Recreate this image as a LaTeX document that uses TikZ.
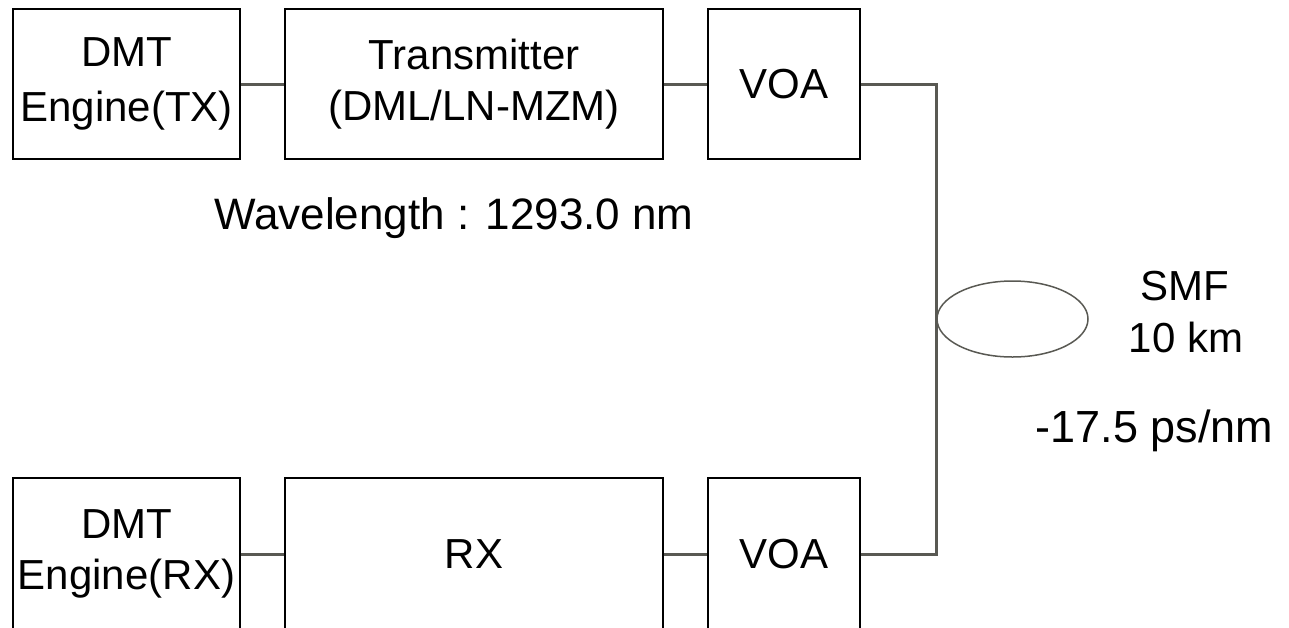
\documentclass[tikz,border=0pt]{standalone}
\usepackage{fontspec}
\setmainfont{Liberation Sans}
\usetikzlibrary{shapes.geometric}
\definecolor{wire}{RGB}{89,89,83}
\tikzset{
  blk/.style={draw=black, line width=2pt, fill=white, inner sep=0pt, align=center,
    font=\fontsize{42}{51}\selectfont},
  wireline/.style={draw=wire, line width=3pt},
  lbl/.style={inner sep=0pt, anchor=base},
}
\begin{document}
\begin{tikzpicture}[x=1pt,y=-1pt]
\useasboundingbox (0,0) rectangle (1289,627);
\clip (0,0) rectangle (1289,627);
% top row
\node[blk, minimum width=227pt, minimum height=150pt, font=\fontsize{42}{55}\selectfont] (dmttx) at (126.5,84) {DMT\\Engine(TX)};
\node[blk, minimum width=378pt, minimum height=150pt] (tx) at (474,84) {Transmitter\\(DML/LN-MZM)};
\node[blk, minimum width=152pt, minimum height=150pt] (voatx) at (784,84) {VOA};
% bottom row
\node[blk, minimum width=227pt, minimum height=152pt] (dmtrx) at (126.5,554) {DMT\\Engine(RX)};
\node[blk, minimum width=378pt, minimum height=152pt] (rx) at (474,554) {RX};
\node[blk, minimum width=152pt, minimum height=152pt] (voarx) at (784,554) {VOA};
% connectors
\coordinate (c1) at (936,84);
\coordinate (c2) at (936,554);
\draw[wireline] (dmttx.east) -- (tx.west);
\draw[wireline] (tx.east) -- (voatx.west);
\draw[wireline] (dmtrx.east) -- (rx.west);
\draw[wireline] (rx.east) -- (voarx.west);
\draw[wireline] (voatx.east) -- (c1) -- (c2) -- (voarx.east);
% fiber spool
\node[ellipse, draw=wire, line width=1.5pt, minimum width=151pt, minimum height=76pt, inner sep=0pt] (smf) at (1012.5,319) {};
% labels
\node[lbl, font=\fontsize{44}{52}\selectfont] (wl) at (454,229) {Wavelength : 1293.0 nm};
\node[lbl, font=\fontsize{42}{52}\selectfont] (smfa) at (1185,300) {SMF};
\node[lbl, font=\fontsize{42}{52}\selectfont] (smfb) at (1186,352) {10 km};
\node[lbl, font=\fontsize{45}{52}\selectfont] (disp) at (1154.5,442) {-17.5 ps/nm};
\end{tikzpicture}
\end{document}
